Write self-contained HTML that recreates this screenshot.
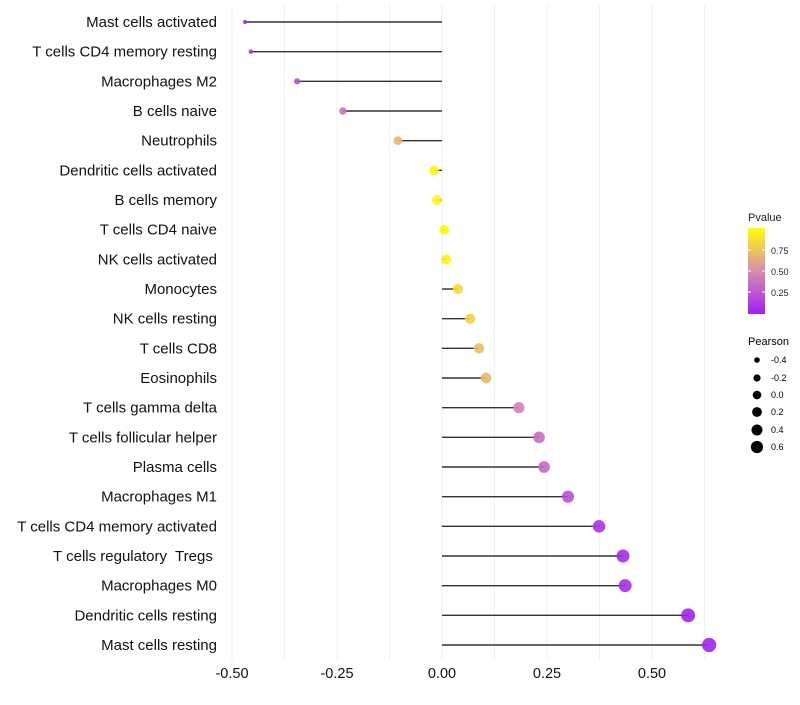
<!DOCTYPE html>
<html><head><meta charset="utf-8"><style>
body{margin:0;background:#fff;font-family:"Liberation Sans",sans-serif}
text{white-space:pre}
</style></head><body>
<svg id="chart" width="800" height="700" xmlns="http://www.w3.org/2000/svg">
<defs><linearGradient id="pg" x1="0" y1="1" x2="0" y2="0">
<stop offset="0" stop-color="#a020f0"/><stop offset="0.5" stop-color="#d98cb0"/><stop offset="1" stop-color="#ffff00"/></linearGradient></defs>
<g id="grid"></g><g id="marks"></g><g id="ylab"></g><g id="xlab"></g>
<g font-size="10" fill="#222">
<text x="748" y="221" font-size="11">Pvalue</text>
<rect x="748" y="228" width="17" height="86" fill="url(#pg)"/>
<line x1="748" x2="751" y1="250" y2="250" stroke="#fff"/><line x1="762" x2="765" y1="250" y2="250" stroke="#fff"/>
<line x1="748" x2="751" y1="271" y2="271" stroke="#fff"/><line x1="762" x2="765" y1="271" y2="271" stroke="#fff"/>
<line x1="748" x2="751" y1="292" y2="292" stroke="#fff"/><line x1="762" x2="765" y1="292" y2="292" stroke="#fff"/>
<text x="771" y="254" font-size="9">0.75</text><text x="771" y="275" font-size="9">0.50</text><text x="771" y="296" font-size="9">0.25</text>
</g>
<g fill="#000" font-size="9">
<text x="748" y="345" font-size="11">Pearson</text>
<circle cx="757" cy="360" r="2.8"/><text x="771" y="363">-0.4</text>
<circle cx="757" cy="378" r="3.6"/><text x="771" y="381">-0.2</text>
<circle cx="757" cy="395" r="4.3"/><text x="771" y="398">0.0</text>
<circle cx="757" cy="412" r="4.9"/><text x="771" y="415">0.2</text>
<circle cx="757" cy="430" r="5.5"/><text x="771" y="433">0.4</text>
<circle cx="757" cy="447" r="6.1"/><text x="771" y="450">0.6</text>
</g>
</svg>
<script>
const categories=["Mast cells activated","T cells CD4 memory resting","Macrophages M2","B cells naive","Neutrophils","Dendritic cells activated","B cells memory","T cells CD4 naive","NK cells activated","Monocytes","NK cells resting","T cells CD8","Eosinophils","T cells gamma delta","T cells follicular helper","Plasma cells","Macrophages M1","T cells CD4 memory activated","T cells regulatory  Tregs ","Macrophages M0","Dendritic cells resting","Mast cells resting"];
const pearson=[-0.469,-0.455,-0.345,-0.236,-0.105,-0.019,-0.012,0.005,0.01,0.038,0.067,0.088,0.105,0.183,0.231,0.243,0.3,0.374,0.431,0.436,0.586,0.636];
const pvalue=[0.03,0.04,0.2,0.4,0.7,0.97,0.96,0.98,0.95,0.85,0.8,0.72,0.7,0.45,0.36,0.34,0.22,0.1,0.06,0.06,0.02,0.02];
const xticks=[-0.5,-0.25,0,0.25,0.5];
const xtickLabels=["-0.50","-0.25","0.00","0.25","0.50"];
const NS="http://www.w3.org/2000/svg";
const x=v=>442+v*420, y=i=>22+i*29.667;
function mk(t,a,p){const e=document.createElementNS(NS,t);for(const k in a)e.setAttribute(k,a[k]);p.appendChild(e);return e;}
function lerp(a,b,t){return a.map((v,i)=>Math.round(v+(b[i]-v)*t));}
function col(p){const A=[160,32,240],B=[217,140,176],C=[255,255,0];const c=p<0.5?lerp(A,B,p/0.5):lerp(B,C,(p-0.5)/0.5);return `rgb(${c})`;}
const grid=document.getElementById('grid');
for(let v=-0.5;v<=0.626;v+=0.125){const l=mk('line',{x1:x(v),x2:x(v),y1:5,y2:660,stroke:'#efefef','stroke-width':1},grid);

}
const marks=document.getElementById('marks'),yl=document.getElementById('ylab'),xl=document.getElementById('xlab');
categories.forEach((c,i)=>{
 const ln=mk('line',{x1:x(0),x2:x(pearson[i]),y1:y(i),y2:y(i),stroke:'#333','stroke-width':1.4},marks);
 
 
 const r=Math.sqrt(Math.max(2,24+42*pearson[i]));
 const ci=mk('circle',{cx:x(pearson[i]),cy:y(i),r:r,fill:col(pvalue[i]),'fill-opacity':0.9},marks);
 
 
 const t=mk('text',{x:217,y:y(i)+5,'text-anchor':'end','font-size':15,fill:'#111'},yl);t.textContent=c;
 
 
});
xticks.forEach((v,i)=>{const t=mk('text',{x:x(v),y:678,'text-anchor':'middle','font-size':14.5,fill:'#111'},xl);t.textContent=xtickLabels[i];

});
</script>
</body></html>
